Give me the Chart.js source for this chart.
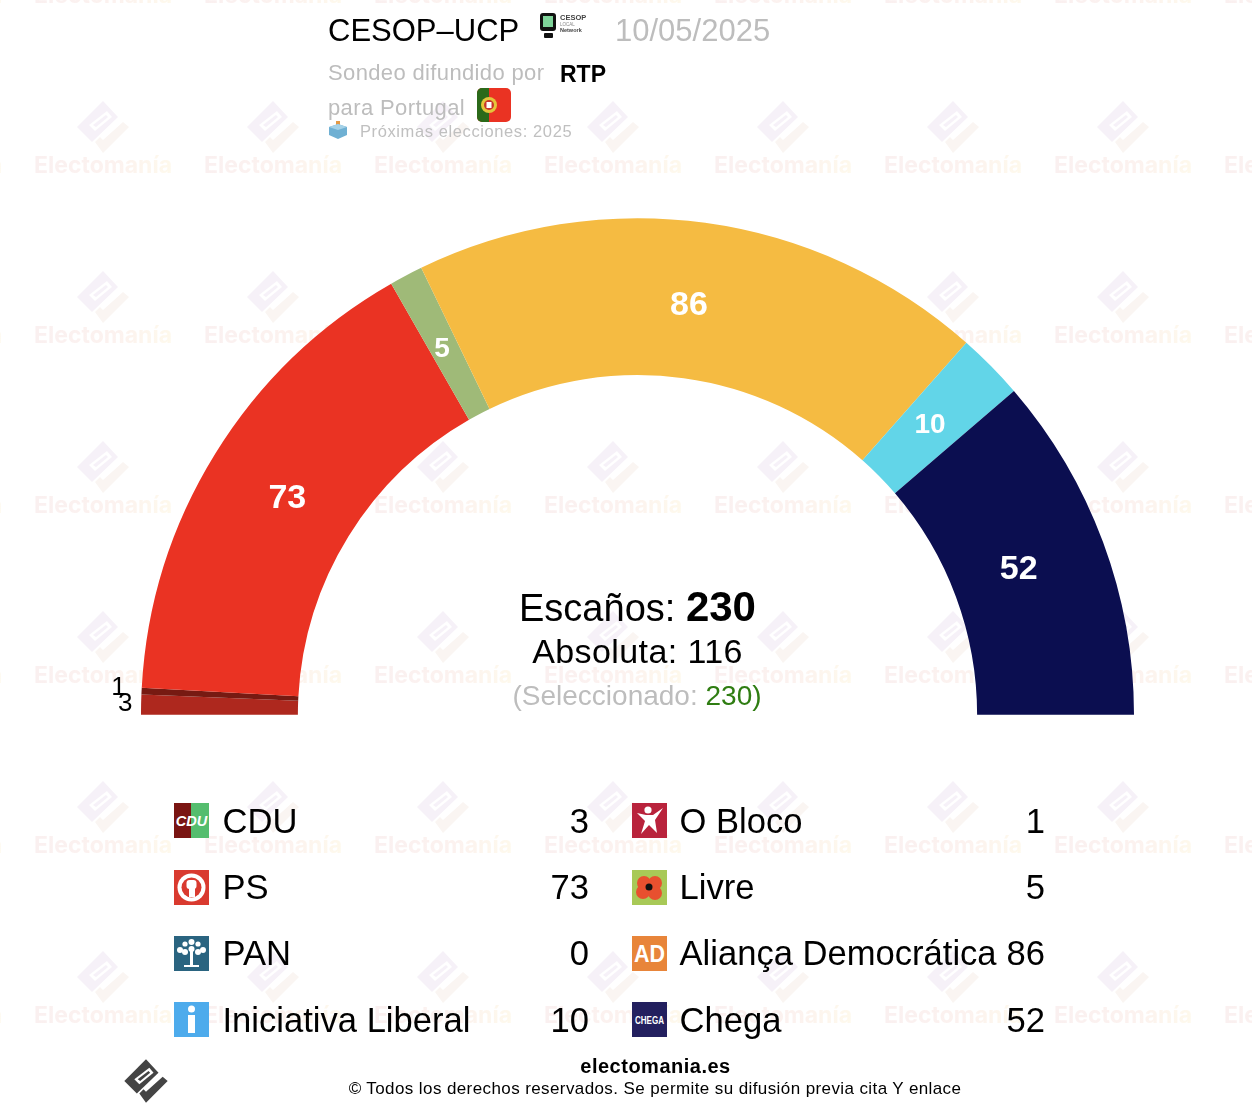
<!DOCTYPE html>
<html>
<head>
<meta charset="utf-8">
<title>CESOP-UCP 10/05/2025</title>
<script src="https://cdn.jsdelivr.net/npm/chart.js@4"></script>
<style>
  html, body { margin: 0; padding: 0; background: #fff; }
  #page { position: relative; width: 1252px; height: 1116px; overflow: hidden; font-family: "Liberation Sans", Arial, sans-serif; color: #000; }
  #page > svg, #myChart { position: absolute; left: 0; top: 0; }
  .t { position: absolute; white-space: nowrap; line-height: 1; transform: translateY(-50%); }
  .c { transform: translate(-50%, -50%); }
  .grey { color: #bdbdbd; }
  .icon { position: absolute; width: 35px; height: 35px; }
  .legend-name { font-size: 34.6px; }
  .legend-seats { font-size: 34.6px; transform: translate(-100%, -50%); }
</style>
</head>
<body>
<div id="page">

  <svg width="1252" height="1116" xmlns="http://www.w3.org/2000/svg">
    <defs>
      <linearGradient id="markText" x1="0" x2="1" y1="0" y2="0">
        <stop offset="0" stop-color="#faf0f0"/>
        <stop offset="0.6" stop-color="#fcf2ef"/>
        <stop offset="1" stop-color="#fef9ec"/>
      </linearGradient>
      <pattern id="mark" patternUnits="userSpaceOnUse" x="18" y="50" width="170" height="170">
        <g transform="translate(85 77)">
          <polygon points="0,-26 15,-10 -11,15 -26,0" fill="#f6f1f8"/>
          <polygon points="-14,-2 4,-16 9,-10 -8,4" fill="#fff"/>
          <polygon points="-10,-2 3,-12 5,-10 -7,0" fill="#f6f1f8"/>
          <polygon points="-8,15 0,26 26,0 20,-5 0,13 -3,10" fill="#faf5f2"/>
        </g>
        <text x="85" y="123" text-anchor="middle" font-family="Inter" font-weight="700" font-size="23" fill="url(#markText)">Electomanía</text>
      </pattern>
    </defs>
    <rect width="1252" height="1116" fill="url(#mark)"/>
  </svg>

  <canvas id="myChart" width="1252" height="1116"></canvas>

  <!-- header -->
  <div class="t" style="left:328px; top:30px; font-size:31px;">CESOP–UCP</div>
  <svg class="icon" style="left:538px; top:12px; width:48px; height:30px;" viewBox="0 0 48 30">
    <rect x="2" y="1" width="16" height="18" rx="3" fill="#111"/>
    <rect x="5" y="4" width="10" height="11" fill="#7fd49a"/>
    <rect x="6" y="21" width="9" height="5" rx="1" fill="#111"/>
    <text x="22" y="8" font-family="Liberation Sans" font-size="7.5" font-weight="700" fill="#444">CESOP</text>
    <text x="22" y="14" font-family="Liberation Sans" font-size="4.5" fill="#888">LOCAL</text>
    <text x="22" y="20" font-family="Liberation Sans" font-size="5.5" font-weight="700" fill="#444">Network</text>
  </svg>
  <div class="t grey" style="left:615px; top:30px; font-size:31px;">10/05/2025</div>
  <div class="t grey" style="left:328px; top:73px; font-size:22px; letter-spacing:0.36px;">Sondeo difundido por</div>
  <div class="t" style="left:560px; top:74px; font-size:23px; font-weight:700;">RTP</div>
  <div class="t grey" style="left:328px; top:108px; font-size:22px; letter-spacing:0.38px;">para Portugal</div>
  <svg class="icon" style="left:477px; top:88px; width:34px; height:34px;" viewBox="0 0 34 34">
    <rect width="34" height="34" rx="5" fill="#ea3323"/>
    <path d="M5 0h7v34H5a5 5 0 0 1-5-5V5a5 5 0 0 1 5-5z" fill="#2b6a1a"/>
    <circle cx="12" cy="17" r="8" fill="#e4c63a"/>
    <circle cx="12" cy="17" r="5" fill="#c8352b"/>
    <rect x="9.5" y="14" width="5" height="6" fill="#fff"/>
  </svg>
  <svg class="icon" style="left:329px; top:121px; width:18px; height:18px;" viewBox="0 0 18 18">
    <rect x="7" y="0" width="4" height="6" fill="#e59a45"/>
    <polygon points="9,3 18,6 18,14 9,18 0,14 0,6" fill="#6fb0d3"/>
    <polygon points="9,3 18,6 9,9 0,6" fill="#a5d2e8"/>
  </svg>
  <div class="t" style="left:360px; top:131px; font-size:16.5px; letter-spacing:0.6px; color:#c0c0c0;">Próximas elecciones: 2025</div>

  <!-- centre of the hemicycle -->
  <div class="t c" style="left:637.5px; top:607px; font-size:38px;">Escaños: <b id="totalSeats" style="font-size:42px;"></b></div>
  <div class="t c" style="left:637.5px; top:651px; font-size:34px; letter-spacing:0.4px;">Absoluta: <span id="majority"></span></div>
  <div class="t c grey" style="left:637px; top:696px; font-size:28px;">(Seleccionado: <span style="color:#2f7d12;"><span id="selected"></span>)</span></div>

  <div id="legend"></div>

  <!-- footer -->
  <svg class="icon" style="left:121px; top:1056px; width:50px; height:50px;" viewBox="-30 -30 60 60">
    <polygon points="0,-26 15,-10 -11,15 -26,0" fill="#444"/>
    <polygon points="-14,-2 4,-16 9,-10 -8,4" fill="#fff"/>
    <polygon points="-10,-2 3,-12 5,-10 -7,0" fill="#444"/>
    <polygon points="-8,15 0,26 26,0 20,-5 0,13 -3,10" fill="#444"/>
  </svg>
  <div class="t c" style="left:655.5px; top:1066px; font-size:20px; letter-spacing:0.5px; font-weight:700;">electomania.es</div>
  <div class="t c" style="left:655px; top:1088px; font-size:17px; letter-spacing:0.4px;">© Todos los derechos reservados. Se permite su difusión previa cita Y enlace</div>
</div>

<script>
// Parties in hemicycle order, the legend reads the same order row by row
var parties = ['CDU', 'O Bloco', 'PS', 'Livre', 'PAN', 'Aliança Democrática', 'Iniciativa Liberal', 'Chega'];
var seats = [3, 1, 73, 5, 0, 86, 10, 52];
var partyColors = ['#ae281e', '#771a12', '#ea3323', '#9fba78', '#2a6480', '#f5bb42', '#62d5e8', '#0b0e50'];
var majority = 116;

var totalSeats = seats.reduce(function(a, b) { return a + b; }, 0);
document.getElementById('totalSeats').innerHTML = totalSeats;
document.getElementById('selected').innerHTML = totalSeats;
document.getElementById('majority').innerHTML = majority;

// small party logos, only drawn approximately
var icons = {
  'CDU': '<rect width="35" height="35" fill="#55bd6e"/><rect width="17" height="35" fill="#7a1512"/><text x="17.5" y="22.5" text-anchor="middle" font-family="Liberation Sans" font-weight="700" font-style="italic" font-size="14.5" fill="#fff">CDU</text>',
  'O Bloco': '<rect width="35" height="35" fill="#b9233c"/><circle cx="16" cy="7" r="3.6" fill="#fff"/><polygon points="5,10 14,12 21,12 31,5 23,17 25,30 17,22 9,31 13,18" fill="#fff"/>',
  'PS': '<rect width="35" height="35" fill="#d93a2f"/><circle cx="17.5" cy="17.5" r="14" fill="#fff"/><circle cx="17.5" cy="17.5" r="10" fill="#d93a2f"/><rect x="12.5" y="10" width="10" height="9" rx="3" fill="#fff"/><rect x="15" y="18" width="6" height="9" fill="#fff"/>',
  'Livre': '<rect width="35" height="35" fill="#a8c957"/><circle cx="12" cy="13" r="7" fill="#e8502f"/><circle cx="23" cy="13" r="7" fill="#e8502f"/><circle cx="11" cy="22" r="7" fill="#e8502f"/><circle cx="23" cy="23" r="7" fill="#e8502f"/><circle cx="17" cy="17" r="3.5" fill="#111"/>',
  'PAN': '<rect width="35" height="35" fill="#2a6480"/><rect x="16" y="15" width="3" height="15" fill="#fff"/><circle cx="17.5" cy="6" r="3" fill="#fff"/><circle cx="11" cy="8" r="2.6" fill="#fff"/><circle cx="24" cy="8" r="2.6" fill="#fff"/><circle cx="6" cy="14" r="3" fill="#fff"/><circle cx="29" cy="14" r="3" fill="#fff"/><circle cx="11" cy="16" r="3" fill="#fff"/><circle cx="24" cy="16" r="3" fill="#fff"/><circle cx="17.5" cy="13" r="3" fill="#fff"/><rect x="10" y="29" width="15" height="2" fill="#fff"/>',
  'Aliança Democrática': '<rect width="35" height="35" fill="#e8853a"/><text x="17.5" y="26" text-anchor="middle" font-family="Liberation Sans" font-weight="700" font-size="24" textLength="31" lengthAdjust="spacingAndGlyphs" fill="#fff">AD</text>',
  'Iniciativa Liberal': '<rect width="35" height="35" fill="#4dabec"/><circle cx="17.5" cy="7" r="3.5" fill="#fff"/><rect x="14" y="13" width="7" height="18" fill="#fff"/>',
  'Chega': '<rect width="35" height="35" fill="#23205f"/><text x="17.5" y="21.5" text-anchor="middle" font-family="Liberation Sans" font-weight="700" font-size="11" textLength="29" lengthAdjust="spacingAndGlyphs" fill="#fff">CHEGA</text>'
};

// legend rows
var rowIcons = [803, 870, 936, 1002];
var rowText = [821, 887, 953, 1020];
var colIcon = [174, 632];
var colName = [222.5, 679.5];
var colSeats = [589, 1045];

var legendHtml = '';
parties.forEach(function(party, i) {
  var col = i % 2;
  var row = Math.floor(i / 2);
  legendHtml += '<svg class="icon" viewBox="0 0 35 35" style="left:' + colIcon[col] + 'px; top:' + rowIcons[row] + 'px;">' + icons[party] + '</svg>';
  legendHtml += '<div class="t legend-name" style="left:' + colName[col] + 'px; top:' + rowText[row] + 'px;">' + party + '</div>';
  legendHtml += '<div class="t legend-seats" style="left:' + colSeats[col] + 'px; top:' + rowText[row] + 'px;">' + seats[i] + '</div>';
});
document.getElementById('legend').innerHTML = legendHtml;

// small pixel nudges for the seat numbers, the original does not sit quite on the slice centres
var labelNudgeX = [0, 1, 3, -2, 0, -5, -3, -8];
var labelNudgeY = [0, -2, 2, 2, 0, 2, 2, -1];

// seat numbers on the slices, tiny slices get theirs outside in black
var seatLabels = {
  id: 'seatLabels',
  afterDatasetsDraw: function(chart) {
    var c = chart.ctx;
    var arcs = chart.getDatasetMeta(0).data;
    c.save();
    c.textAlign = 'center';
    c.textBaseline = 'middle';
    arcs.forEach(function(arc, i) {
      var value = seats[i];
      if (value === 0) return;
      var p = arc.getProps(['x', 'y', 'startAngle', 'endAngle', 'innerRadius', 'outerRadius'], true);
      var mid = (p.startAngle + p.endAngle) / 2;
      var r = (p.innerRadius + p.outerRadius) / 2 - 3;
      if (value < 5) {
        r = p.outerRadius + (value === 1 ? 24 : 16);
        c.fillStyle = '#000';
        c.font = '26px "Liberation Sans"';
      } else {
        c.fillStyle = '#fff';
        c.font = 'bold ' + (value >= 50 ? 34 : 28) + 'px "Liberation Sans"';
      }
      c.fillText(value, p.x + Math.cos(mid) * r + labelNudgeX[i], p.y + Math.sin(mid) * r + labelNudgeY[i]);
    });
    c.restore();
  }
};

new Chart(document.getElementById('myChart'), {
  type: 'doughnut',
  data: {
    labels: parties,
    datasets: [{
      data: seats,
      backgroundColor: partyColors,
      borderWidth: 0
    }]
  },
  options: {
    responsive: false,
    animation: false,
    rotation: -90,
    circumference: 180,
    cutout: '68.4%',
    layout: { padding: { left: 141, right: 118, top: 218, bottom: 401 } },
    plugins: { legend: { display: false }, tooltip: { enabled: false } }
  },
  plugins: [seatLabels]
});
</script>
</body>
</html>
